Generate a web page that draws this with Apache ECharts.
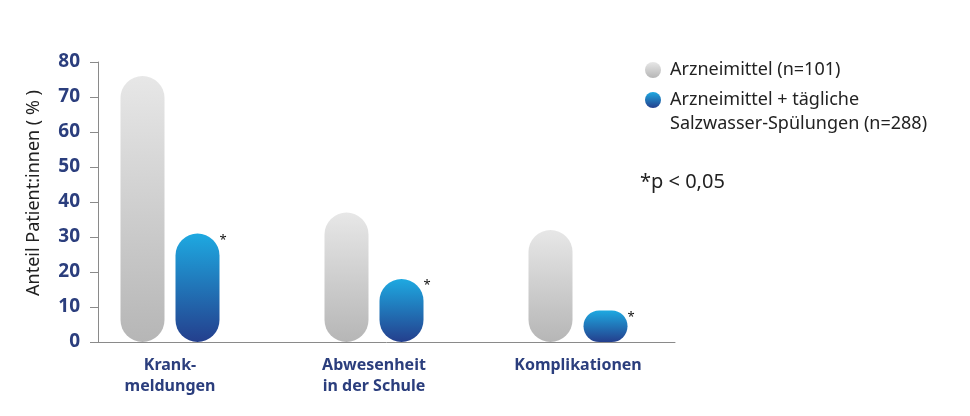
<!DOCTYPE html>
<html>
<head>
<meta charset="utf-8">
<script src="https://cdn.jsdelivr.net/npm/echarts@6/dist/echarts.min.js"></script>
<style>
html,body{margin:0;padding:0;background:#fff;}
#chart{width:970px;height:416px;}
</style>
</head>
<body>
<div id="chart"></div>
<script>
const categories = ['Krank-\nmeldungen', 'Abwesenheit\nin der Schule', 'Komplikationen'];
const seriesNames = ['Arzneimittel (n=101)', 'Arzneimittel + tägliche\nSalzwasser-Spülungen (n=288)'];
const medication = [76, 37, 32];
const medicationPlusRinse = [31, 18, 9];
const significance = ['*', '*', '*'];
const yTicks = { min: 0, max: 80, interval: 10 };
const axisTitle = 'Anteil Patient:innen ( % )';
const footnote = '*p < 0,05';

const FONT = 'Noto Sans';
const NAVY = '#2b3e7d';

const greyGrad = new echarts.graphic.LinearGradient(0, 0, 0, 1, [
  { offset: 0, color: '#e7e7e7' }, { offset: 1, color: '#b6b6b6' }
]);
const blueGrad = new echarts.graphic.LinearGradient(0, 0, 0, 1, [
  { offset: 0, color: '#1ea9e1' }, { offset: 1, color: '#243f8d' }
]);

const richLines = (name) => name.split('\n').map(s => '{t|' + s + '}').join('\n');
const legendText = { color: '#222', fontSize: 18, lineHeight: 24, fontFamily: FONT,
  rich: { t: { color: '#222', fontSize: 18, lineHeight: 24, fontFamily: FONT, padding: [0, 0, 0, 4] } } };

const chart = echarts.init(document.getElementById('chart'));
chart.setOption({
  animation: false,
  textStyle: { fontFamily: FONT },
  grid: [
    { left: 68, right: 290, top: 62, bottom: 74 },
    { left: 98, right: 295, top: 62, bottom: 74 }
  ],
  xAxis: [
    {
      type: 'category', gridIndex: 0, data: categories,
      axisLine: { show: false }, axisTick: { show: false },
      axisLabel: { color: NAVY, fontFamily: FONT, fontWeight: 'bold', fontSize: 16, lineHeight: 21, margin: 13 }
    },
    {
      type: 'value', gridIndex: 1, min: 0, max: 1,
      axisLine: { show: true, lineStyle: { color: '#8a8a8a', width: 1 } },
      axisTick: { show: false }, axisLabel: { show: false }, splitLine: { show: false }
    }
  ],
  yAxis: [
    {
      type: 'value', gridIndex: 0, min: yTicks.min, max: yTicks.max, interval: yTicks.interval,
      show: false
    },
    {
      type: 'value', gridIndex: 1, min: yTicks.min, max: yTicks.max, interval: yTicks.interval,
      name: axisTitle, nameLocation: 'middle', nameGap: 55,
      nameTextStyle: { color: '#222', fontSize: 18, fontFamily: FONT, padding: [0, 0, 0, 18] },
      axisLine: { show: true, lineStyle: { color: '#8a8a8a', width: 1 } },
      axisTick: { show: true, length: 8, lineStyle: { color: '#8a8a8a' } },
      axisLabel: { color: NAVY, fontFamily: FONT, fontWeight: 'bold', fontSize: 19, margin: 18 },
      splitLine: { show: false }
    }
  ],
  legend: [
    {
      data: [seriesNames[0]], left: 645, top: 58, padding: 0, orient: 'vertical',
      icon: 'circle', itemWidth: 16, itemHeight: 16,
      formatter: name => richLines(name),
      textStyle: legendText
    },
    {
      data: [seriesNames[1]], left: 645, top: 64, padding: 0, orient: 'vertical',
      icon: 'circle', itemWidth: 16, itemHeight: 16,
      formatter: name => '\n' + richLines(name),
      textStyle: legendText
    }
  ],
  graphic: [
    {
      type: 'text', left: 640, top: 172,
      style: { text: footnote, fill: '#222', font: '20px "Noto Sans"' }
    }
  ],
  series: [
    {
      type: 'bar', name: seriesNames[0], xAxisIndex: 0, yAxisIndex: 0,
      data: medication, barWidth: 44, barGap: '25%',
      itemStyle: { color: greyGrad, borderRadius: 22 }
    },
    {
      type: 'bar', name: seriesNames[1], xAxisIndex: 0, yAxisIndex: 0,
      data: medicationPlusRinse, barWidth: 44, barGap: '25%',
      itemStyle: { color: blueGrad, borderRadius: 22 },
      label: {
        show: true, position: ['100%', 0], align: 'left', verticalAlign: 'top',
        offset: [0, 0], color: '#111', fontSize: 13,
        formatter: p => significance[p.dataIndex]
      }
    }
  ]
});
</script>
</body>
</html>
